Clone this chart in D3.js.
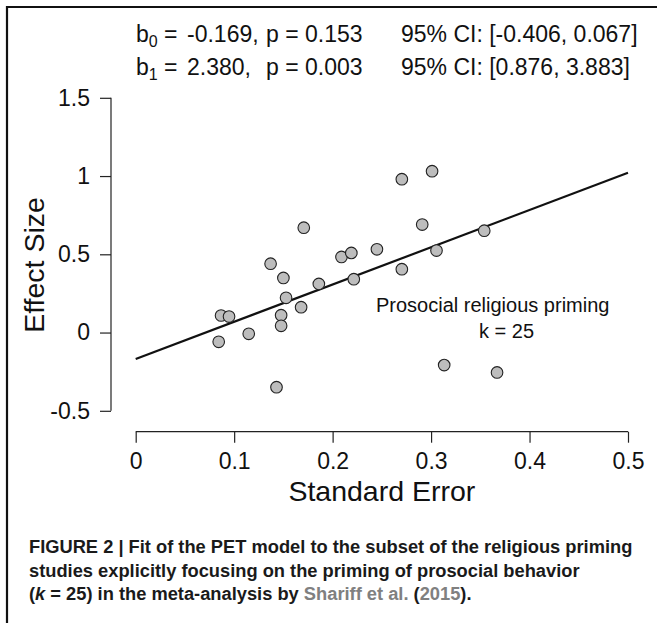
<!DOCTYPE html>
<html>
<head>
<meta charset="utf-8">
<script src="https://cdn.jsdelivr.net/npm/d3@7"></script>
<style>
  body { margin: 0; background: #fff; }
  svg { display: block; font-family: "Liberation Sans", Arial, Helvetica, sans-serif; }
</style>
</head>
<body>
<svg id="chart" width="657" height="623"></svg>
<script>
// standard error and effect size of each study
const standardErrors = [0.0867, 0.0948, 0.0843, 0.1148, 0.137, 0.143, 0.150, 0.1527, 0.1477, 0.1477,
  0.1707, 0.168, 0.186, 0.209, 0.219, 0.2215, 0.2703, 0.301, 0.291, 0.245,
  0.3055, 0.2703, 0.354, 0.3133, 0.367];
const effectSizes = [0.109, 0.102, -0.059, -0.008, 0.44, -0.349, 0.349, 0.222, 0.111, 0.043,
  0.670, 0.162, 0.311, 0.483, 0.509, 0.341, 0.980, 1.031, 0.690, 0.532,
  0.524, 0.405, 0.651, -0.208, -0.255];

// PET fit
const b0 = -0.169;
const b1 = 2.380;
const fitRange = [0, 0.5];

const xTicks = [0, 0.1, 0.2, 0.3, 0.4, 0.5];
const yTicks = [-0.5, 0, 0.5, 1, 1.5];

const statLines = [
  { sub: "0", value: "-0.169,", p: "p = 0.153", ci: "95% CI: [-0.406, 0.067]" },
  { sub: "1", value: "2.380,", p: "p = 0.003", ci: "95% CI: [0.876, 3.883]" }
];

const svg = d3.select("#chart");

// frame (left and top edge only)
svg.append("path")
  .attr("d", "M7,623 V7 H657")
  .attr("fill", "none")
  .attr("stroke", "#111")
  .attr("stroke-width", 2.2);

const x = d3.scaleLinear().domain([0, 0.5]).range([135.7, 628]);
const y = d3.scaleLinear().domain([-0.5, 1.5]).range([410.8, 97.8]);

// x axis (R style: line from first to last tick, ticks outward)
const xAxis = svg.append("g")
  .attr("transform", "translate(0,431.7)")
  .call(d3.axisBottom(x).tickValues(xTicks).tickSize(11).tickPadding(10)
    .tickFormat(d => d3.format("")(+d.toFixed(1))));
xAxis.select(".domain").attr("d", `M${x(0)},0 H${x(0.5)}`);

// y axis
const yAxis = svg.append("g")
  .attr("transform", "translate(111,0)")
  .call(d3.axisLeft(y).tickValues(yTicks).tickSize(11).tickPadding(10)
    .tickFormat(d => String(d)));
yAxis.select(".domain").attr("d", `M0,${y(-0.5)} V${y(1.5)}`);

svg.selectAll(".tick text")
  .attr("font-size", 23)
  .attr("font-family", "Liberation Sans, Arial, sans-serif")
  .attr("fill", "#111");
svg.selectAll(".domain, .tick line").attr("stroke", "#222").attr("stroke-width", 1.2);

// axis titles
svg.append("text")
  .attr("x", (x(0) + x(0.5)) / 2)
  .attr("y", 500.5)
  .attr("text-anchor", "middle")
  .attr("font-size", 28.5)
  .attr("fill", "#111")
  .text("Standard Error");

svg.append("text")
  .attr("transform", "translate(44,265) rotate(-90)")
  .attr("text-anchor", "middle")
  .attr("font-size", 28.5)
  .attr("fill", "#111")
  .text("Effect Size");

// regression line
svg.append("line")
  .attr("x1", x(fitRange[0])).attr("y1", y(b0 + b1 * fitRange[0]))
  .attr("x2", x(fitRange[1])).attr("y2", y(b0 + b1 * fitRange[1]))
  .attr("stroke", "#111")
  .attr("stroke-width", 2.2);

// study points
svg.append("g")
  .selectAll("circle")
  .data(d3.range(standardErrors.length))
  .join("circle")
  .attr("cx", i => x(standardErrors[i]))
  .attr("cy", i => y(effectSizes[i]))
  .attr("r", 5.8)
  .attr("fill", "#bdbdbd")
  .attr("stroke", "#222")
  .attr("stroke-width", 1.1);

// annotation
svg.append("text")
  .attr("x", 376).attr("y", 312)
  .attr("font-size", 20)
  .attr("fill", "#111")
  .text("Prosocial religious priming");
svg.append("text")
  .attr("x", 479).attr("y", 338.3)
  .attr("font-size", 20)
  .attr("fill", "#111")
  .text("k = 25");

// fit statistics at the top
const stats = svg.append("g").attr("font-size", 23).attr("fill", "#111");
statLines.forEach((s, i) => {
  const baseY = 41.7 + i * 33.3;
  const lab = stats.append("text").attr("x", 136).attr("y", baseY);
  lab.append("tspan").text("b");
  lab.append("tspan").attr("font-size", 16).attr("dy", 5).text(s.sub);
  lab.append("tspan").attr("dy", -5).text(" =");
  stats.append("text").attr("x", 187).attr("y", baseY).text(s.value);
  stats.append("text").attr("x", 266).attr("y", baseY).text(s.p);
  stats.append("text").attr("x", 401).attr("y", baseY).text(s.ci);
});

// caption
const caption = svg.append("g")
  .attr("font-size", 18.3)
  .attr("font-weight", "bold")
  .attr("fill", "#1a1a1a");
caption.append("text").attr("x", 29).attr("y", 553)
  .text("FIGURE 2 | Fit of the PET model to the subset of the religious priming");
caption.append("text").attr("x", 29).attr("y", 577)
  .text("studies explicitly focusing on the priming of prosocial behavior");
const last = caption.append("text").attr("x", 29).attr("y", 600);
last.append("tspan").text("(");
last.append("tspan").attr("font-style", "italic").text("k");
last.append("tspan").text(" = 25) in the meta-analysis by ");
last.append("tspan").attr("fill", "#808080").text("Shariff et al.");
last.append("tspan").text(" (");
last.append("tspan").attr("fill", "#808080").text("2015");
last.append("tspan").text(").");
</script>
</body>
</html>
